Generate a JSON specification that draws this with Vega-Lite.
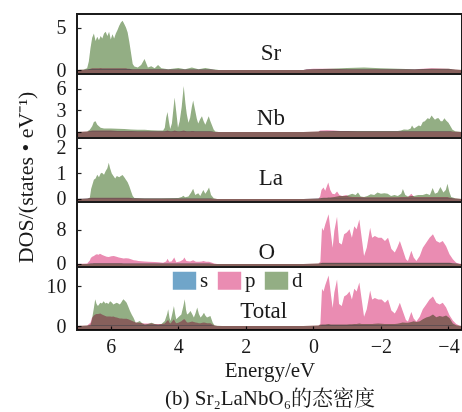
{
"$schema": "https://vega.github.io/schema/vega-lite/v6.json",
"background": "white",
"padding": {"left": 13, "top": 13, "right": 0, "bottom": 0},
"spacing": 0,
"bounds": "flush",
"resolve": {"legend": {"color": "independent"}},
"config": {
 "font": "Liberation Serif",
 "view": {"stroke": "#1c1c1c", "strokeWidth": 2},
 "axis": {"grid": false, "domain": false, "tickSize": -4, "tickColor": "#222", "tickWidth": 1.2, "labelFont": "Liberation Serif", "labelFontSize": 20, "labelColor": "#1a1a1a", "labelOverlap": false, "labelFlush": false, "labelPadding": 15, "titleFont": "Liberation Serif, Noto Serif CJK SC, Noto Sans CJK SC", "titleFontSize": 21, "titleFontWeight": "normal", "titleColor": "#1a1a1a"},
 "area": {"blend": "multiply", "interpolate": "linear"},
 "text": {"font": "Liberation Serif", "fontSize": 23, "color": "#1a1a1a"}
},
"data": {"values": [
{"a":"Sr","e":7,"s":0,"p":0,"d":0},{"a":"Sr","e":6.8,"s":0,"p":0.02,"d":0.05},{"a":"Sr","e":6.7,"s":0.02,"p":0.05,"d":0.2},{"a":"Sr","e":6.65,"s":0.05,"p":0.1,"d":1.0},{"a":"Sr","e":6.6,"s":0.05,"p":0.15,"d":2.6},{"a":"Sr","e":6.55,"s":0.05,"p":0.2,"d":3.8},{"a":"Sr","e":6.5,"s":0.05,"p":0.2,"d":4.3},{"a":"Sr","e":6.45,"s":0.05,"p":0.2,"d":3.4},{"a":"Sr","e":6.4,"s":0.05,"p":0.2,"d":3.9},{"a":"Sr","e":6.35,"s":0.05,"p":0.2,"d":3.5},{"a":"Sr","e":6.3,"s":0.05,"p":0.25,"d":4.0},{"a":"Sr","e":6.25,"s":0.05,"p":0.2,"d":3.7},{"a":"Sr","e":6.2,"s":0.05,"p":0.2,"d":4.3},{"a":"Sr","e":6.15,"s":0.05,"p":0.2,"d":4.5},{"a":"Sr","e":6.1,"s":0.05,"p":0.2,"d":4.0},{"a":"Sr","e":6.05,"s":0.05,"p":0.2,"d":4.5},{"a":"Sr","e":6.0,"s":0.05,"p":0.2,"d":3.6},{"a":"Sr","e":5.95,"s":0.05,"p":0.2,"d":4.2},{"a":"Sr","e":5.9,"s":0.05,"p":0.2,"d":3.7},{"a":"Sr","e":5.85,"s":0.05,"p":0.2,"d":4.3},{"a":"Sr","e":5.8,"s":0.05,"p":0.2,"d":4.7},{"a":"Sr","e":5.75,"s":0.05,"p":0.2,"d":5.2},{"a":"Sr","e":5.7,"s":0.05,"p":0.2,"d":5.6},{"a":"Sr","e":5.65,"s":0.05,"p":0.2,"d":5.8},{"a":"Sr","e":5.6,"s":0.05,"p":0.2,"d":5.4},{"a":"Sr","e":5.55,"s":0.05,"p":0.2,"d":5.0},{"a":"Sr","e":5.5,"s":0.05,"p":0.15,"d":4.4},{"a":"Sr","e":5.45,"s":0.05,"p":0.15,"d":3.3},{"a":"Sr","e":5.4,"s":0.05,"p":0.1,"d":2.0},{"a":"Sr","e":5.35,"s":0.03,"p":0.1,"d":0.7},{"a":"Sr","e":5.3,"s":0.03,"p":0.1,"d":0.4},{"a":"Sr","e":5.2,"s":0.03,"p":0.1,"d":0.3},{"a":"Sr","e":5.1,"s":0.03,"p":0.1,"d":0.6},{"a":"Sr","e":5.0,"s":0.03,"p":0.1,"d":1.3},{"a":"Sr","e":4.95,"s":0.03,"p":0.1,"d":0.8},{"a":"Sr","e":4.9,"s":0.03,"p":0.1,"d":0.3},{"a":"Sr","e":4.8,"s":0.03,"p":0.1,"d":0.45},{"a":"Sr","e":4.7,"s":0.03,"p":0.1,"d":0.2},{"a":"Sr","e":4.6,"s":0.03,"p":0.1,"d":0.6},{"a":"Sr","e":4.5,"s":0.03,"p":0.1,"d":0.2},{"a":"Sr","e":4.3,"s":0.02,"p":0.05,"d":0.1},{"a":"Sr","e":4.0,"s":0.02,"p":0.05,"d":0.25},{"a":"Sr","e":3.8,"s":0.02,"p":0.05,"d":0.1},{"a":"Sr","e":3.6,"s":0.02,"p":0.05,"d":0.3},{"a":"Sr","e":3.4,"s":0.02,"p":0.05,"d":0.1},{"a":"Sr","e":3.2,"s":0.02,"p":0.05,"d":0.25},{"a":"Sr","e":3.0,"s":0.02,"p":0.05,"d":0.1},{"a":"Sr","e":2.9,"s":0,"p":0,"d":0.05},{"a":"Sr","e":2.8,"s":0,"p":0,"d":0},{"a":"Sr","e":0.3,"s":0,"p":0,"d":0},{"a":"Sr","e":0.2,"s":0.02,"p":0.1,"d":0.05},{"a":"Sr","e":0,"s":0.02,"p":0.15,"d":0.1},{"a":"Sr","e":-0.5,"s":0.02,"p":0.15,"d":0.15},{"a":"Sr","e":-1.0,"s":0.02,"p":0.1,"d":0.25},{"a":"Sr","e":-1.5,"s":0.02,"p":0.1,"d":0.3},{"a":"Sr","e":-2.0,"s":0.02,"p":0.1,"d":0.2},{"a":"Sr","e":-2.5,"s":0.02,"p":0.1,"d":0.15},{"a":"Sr","e":-3.0,"s":0.02,"p":0.1,"d":0.1},{"a":"Sr","e":-3.5,"s":0.02,"p":0.2,"d":0.15},{"a":"Sr","e":-4.0,"s":0.02,"p":0.15,"d":0.15},{"a":"Sr","e":-4.2,"s":0,"p":0.05,"d":0.05},{"a":"Sr","e":-4.4,"s":0,"p":0,"d":0},
{"a":"Nb","e":7,"s":0,"p":0,"d":0},{"a":"Nb","e":6.7,"s":0.01,"p":0.05,"d":0.05},{"a":"Nb","e":6.62,"s":0.02,"p":0.15,"d":0.3},{"a":"Nb","e":6.55,"s":0.02,"p":0.2,"d":0.8},{"a":"Nb","e":6.5,"s":0.02,"p":0.2,"d":1.4},{"a":"Nb","e":6.45,"s":0.02,"p":0.2,"d":1.5},{"a":"Nb","e":6.4,"s":0.02,"p":0.2,"d":1.0},{"a":"Nb","e":6.3,"s":0.02,"p":0.2,"d":0.6},{"a":"Nb","e":6.2,"s":0.02,"p":0.2,"d":0.5},{"a":"Nb","e":6.0,"s":0.02,"p":0.2,"d":0.5},{"a":"Nb","e":5.8,"s":0.02,"p":0.15,"d":0.45},{"a":"Nb","e":5.6,"s":0.02,"p":0.15,"d":0.4},{"a":"Nb","e":5.4,"s":0.02,"p":0.15,"d":0.35},{"a":"Nb","e":5.2,"s":0.02,"p":0.1,"d":0.3},{"a":"Nb","e":5.0,"s":0.02,"p":0.1,"d":0.3},{"a":"Nb","e":4.8,"s":0.02,"p":0.1,"d":0.25},{"a":"Nb","e":4.6,"s":0.02,"p":0.1,"d":0.2},{"a":"Nb","e":4.45,"s":0.02,"p":0.1,"d":0.2},{"a":"Nb","e":4.4,"s":0.02,"p":0.1,"d":0.6},{"a":"Nb","e":4.36,"s":0.02,"p":0.15,"d":2.0},{"a":"Nb","e":4.32,"s":0.02,"p":0.2,"d":2.8},{"a":"Nb","e":4.28,"s":0.02,"p":0.15,"d":1.5},{"a":"Nb","e":4.24,"s":0.02,"p":0.1,"d":0.4},{"a":"Nb","e":4.19,"s":0.02,"p":0.1,"d":1.2},{"a":"Nb","e":4.15,"s":0.02,"p":0.15,"d":3.0},{"a":"Nb","e":4.11,"s":0.02,"p":0.2,"d":4.8},{"a":"Nb","e":4.06,"s":0.02,"p":0.15,"d":2.8},{"a":"Nb","e":4.01,"s":0.02,"p":0.1,"d":0.6},{"a":"Nb","e":3.96,"s":0.02,"p":0.1,"d":1.5},{"a":"Nb","e":3.9,"s":0.02,"p":0.15,"d":3.5},{"a":"Nb","e":3.84,"s":0.02,"p":0.2,"d":6.4},{"a":"Nb","e":3.79,"s":0.02,"p":0.15,"d":4.0},{"a":"Nb","e":3.75,"s":0.02,"p":0.1,"d":2.5},{"a":"Nb","e":3.7,"s":0.02,"p":0.1,"d":1.3},{"a":"Nb","e":3.65,"s":0.02,"p":0.1,"d":2.0},{"a":"Nb","e":3.6,"s":0.02,"p":0.15,"d":3.5},{"a":"Nb","e":3.56,"s":0.02,"p":0.15,"d":4.4},{"a":"Nb","e":3.51,"s":0.02,"p":0.1,"d":3.2},{"a":"Nb","e":3.45,"s":0.02,"p":0.1,"d":1.8},{"a":"Nb","e":3.41,"s":0.02,"p":0.1,"d":1.2},{"a":"Nb","e":3.35,"s":0.02,"p":0.1,"d":1.8},{"a":"Nb","e":3.3,"s":0.02,"p":0.1,"d":2.2},{"a":"Nb","e":3.25,"s":0.02,"p":0.1,"d":1.5},{"a":"Nb","e":3.2,"s":0.02,"p":0.1,"d":1.0},{"a":"Nb","e":3.15,"s":0.02,"p":0.1,"d":1.6},{"a":"Nb","e":3.1,"s":0.02,"p":0.1,"d":2.2},{"a":"Nb","e":3.05,"s":0.02,"p":0.1,"d":1.5},{"a":"Nb","e":3.0,"s":0.02,"p":0.05,"d":0.9},{"a":"Nb","e":2.95,"s":0.01,"p":0.03,"d":0.3},{"a":"Nb","e":2.9,"s":0,"p":0.01,"d":0.05},{"a":"Nb","e":2.8,"s":0,"p":0,"d":0},{"a":"Nb","e":0.3,"s":0,"p":0,"d":0},{"a":"Nb","e":-0.15,"s":0.01,"p":0.05,"d":0.05},{"a":"Nb","e":-0.2,"s":0.02,"p":0.2,"d":0.1},{"a":"Nb","e":-0.4,"s":0.02,"p":0.25,"d":0.1},{"a":"Nb","e":-0.6,"s":0.02,"p":0.2,"d":0.12},{"a":"Nb","e":-0.8,"s":0.02,"p":0.15,"d":0.12},{"a":"Nb","e":-1.0,"s":0.02,"p":0.12,"d":0.15},{"a":"Nb","e":-1.3,"s":0.02,"p":0.1,"d":0.15},{"a":"Nb","e":-1.6,"s":0.02,"p":0.1,"d":0.15},{"a":"Nb","e":-1.9,"s":0.02,"p":0.1,"d":0.15},{"a":"Nb","e":-2.2,"s":0.02,"p":0.1,"d":0.15},{"a":"Nb","e":-2.5,"s":0.02,"p":0.1,"d":0.15},{"a":"Nb","e":-2.59,"s":0.02,"p":0.1,"d":0.2},{"a":"Nb","e":-2.68,"s":0.02,"p":0.1,"d":0.35},{"a":"Nb","e":-2.8,"s":0.02,"p":0.1,"d":0.3},{"a":"Nb","e":-2.88,"s":0.02,"p":0.1,"d":0.5},{"a":"Nb","e":-2.92,"s":0.02,"p":0.1,"d":0.9},{"a":"Nb","e":-2.98,"s":0.02,"p":0.1,"d":0.5},{"a":"Nb","e":-3.05,"s":0.02,"p":0.1,"d":0.7},{"a":"Nb","e":-3.12,"s":0.02,"p":0.1,"d":0.9},{"a":"Nb","e":-3.18,"s":0.02,"p":0.1,"d":0.8},{"a":"Nb","e":-3.24,"s":0.02,"p":0.1,"d":1.4},{"a":"Nb","e":-3.3,"s":0.02,"p":0.1,"d":1.5},{"a":"Nb","e":-3.38,"s":0.02,"p":0.1,"d":1.9},{"a":"Nb","e":-3.44,"s":0.02,"p":0.1,"d":1.8},{"a":"Nb","e":-3.5,"s":0.02,"p":0.1,"d":2.3},{"a":"Nb","e":-3.55,"s":0.02,"p":0.1,"d":2.0},{"a":"Nb","e":-3.6,"s":0.02,"p":0.1,"d":1.7},{"a":"Nb","e":-3.66,"s":0.02,"p":0.1,"d":1.9},{"a":"Nb","e":-3.71,"s":0.02,"p":0.1,"d":1.9},{"a":"Nb","e":-3.77,"s":0.02,"p":0.1,"d":1.5},{"a":"Nb","e":-3.82,"s":0.02,"p":0.1,"d":1.5},{"a":"Nb","e":-3.88,"s":0.02,"p":0.1,"d":1.9},{"a":"Nb","e":-3.93,"s":0.02,"p":0.1,"d":1.6},{"a":"Nb","e":-4.0,"s":0.02,"p":0.1,"d":1.3},{"a":"Nb","e":-4.06,"s":0.02,"p":0.1,"d":0.8},{"a":"Nb","e":-4.12,"s":0.01,"p":0.05,"d":0.3},{"a":"Nb","e":-4.2,"s":0,"p":0.02,"d":0.1},{"a":"Nb","e":-4.4,"s":0,"p":0,"d":0},
{"a":"La","e":7,"s":0,"p":0,"d":0},{"a":"La","e":6.7,"s":0.005,"p":0.02,"d":0.02},{"a":"La","e":6.62,"s":0.01,"p":0.04,"d":0.05},{"a":"La","e":6.58,"s":0.01,"p":0.05,"d":0.4},{"a":"La","e":6.5,"s":0.01,"p":0.05,"d":0.75},{"a":"La","e":6.45,"s":0.01,"p":0.05,"d":0.8},{"a":"La","e":6.4,"s":0.01,"p":0.05,"d":0.95},{"a":"La","e":6.35,"s":0.01,"p":0.05,"d":0.85},{"a":"La","e":6.3,"s":0.01,"p":0.05,"d":1.0},{"a":"La","e":6.26,"s":0.01,"p":0.05,"d":1.03},{"a":"La","e":6.2,"s":0.01,"p":0.05,"d":0.95},{"a":"La","e":6.15,"s":0.01,"p":0.05,"d":1.1},{"a":"La","e":6.1,"s":0.01,"p":0.05,"d":1.2},{"a":"La","e":6.06,"s":0.01,"p":0.05,"d":1.42},{"a":"La","e":6.02,"s":0.01,"p":0.05,"d":1.2},{"a":"La","e":5.97,"s":0.01,"p":0.05,"d":1.0},{"a":"La","e":5.92,"s":0.01,"p":0.05,"d":0.9},{"a":"La","e":5.87,"s":0.01,"p":0.05,"d":0.8},{"a":"La","e":5.82,"s":0.01,"p":0.05,"d":0.9},{"a":"La","e":5.75,"s":0.01,"p":0.05,"d":0.85},{"a":"La","e":5.7,"s":0.01,"p":0.05,"d":0.9},{"a":"La","e":5.65,"s":0.01,"p":0.05,"d":0.94},{"a":"La","e":5.6,"s":0.01,"p":0.05,"d":0.85},{"a":"La","e":5.55,"s":0.01,"p":0.05,"d":0.75},{"a":"La","e":5.5,"s":0.01,"p":0.05,"d":0.65},{"a":"La","e":5.45,"s":0.01,"p":0.05,"d":0.5},{"a":"La","e":5.4,"s":0.01,"p":0.04,"d":0.3},{"a":"La","e":5.35,"s":0.01,"p":0.03,"d":0.12},{"a":"La","e":5.3,"s":0.01,"p":0.03,"d":0.04},{"a":"La","e":5.0,"s":0.01,"p":0.02,"d":0.03},{"a":"La","e":4.5,"s":0.01,"p":0.02,"d":0.03},{"a":"La","e":4.0,"s":0.01,"p":0.02,"d":0.04},{"a":"La","e":3.9,"s":0.01,"p":0.02,"d":0.08},{"a":"La","e":3.85,"s":0.01,"p":0.02,"d":0.13},{"a":"La","e":3.8,"s":0.01,"p":0.02,"d":0.07},{"a":"La","e":3.7,"s":0.01,"p":0.02,"d":0.1},{"a":"La","e":3.62,"s":0.01,"p":0.02,"d":0.25},{"a":"La","e":3.56,"s":0.01,"p":0.02,"d":0.4},{"a":"La","e":3.5,"s":0.01,"p":0.02,"d":0.15},{"a":"La","e":3.41,"s":0.01,"p":0.02,"d":0.22},{"a":"La","e":3.35,"s":0.01,"p":0.02,"d":0.12},{"a":"La","e":3.26,"s":0.01,"p":0.02,"d":0.35},{"a":"La","e":3.2,"s":0.01,"p":0.02,"d":0.2},{"a":"La","e":3.15,"s":0.01,"p":0.02,"d":0.3},{"a":"La","e":3.09,"s":0.01,"p":0.02,"d":0.45},{"a":"La","e":3.03,"s":0.01,"p":0.02,"d":0.15},{"a":"La","e":2.95,"s":0,"p":0.01,"d":0.03},{"a":"La","e":2.85,"s":0,"p":0,"d":0},{"a":"La","e":0.3,"s":0,"p":0,"d":0},{"a":"La","e":-0.15,"s":0.005,"p":0.02,"d":0.02},{"a":"La","e":-0.2,"s":0.01,"p":0.1,"d":0.03},{"a":"La","e":-0.24,"s":0.01,"p":0.35,"d":0.04},{"a":"La","e":-0.3,"s":0.01,"p":0.45,"d":0.05},{"a":"La","e":-0.35,"s":0.01,"p":0.32,"d":0.05},{"a":"La","e":-0.4,"s":0.01,"p":0.5,"d":0.05},{"a":"La","e":-0.44,"s":0.01,"p":0.64,"d":0.06},{"a":"La","e":-0.5,"s":0.01,"p":0.35,"d":0.06},{"a":"La","e":-0.56,"s":0.01,"p":0.2,"d":0.07},{"a":"La","e":-0.63,"s":0.01,"p":0.18,"d":0.08},{"a":"La","e":-0.7,"s":0.01,"p":0.29,"d":0.1},{"a":"La","e":-0.77,"s":0.01,"p":0.15,"d":0.12},{"a":"La","e":-0.85,"s":0.01,"p":0.12,"d":0.12},{"a":"La","e":-0.97,"s":0.01,"p":0.15,"d":0.12},{"a":"La","e":-1.05,"s":0.01,"p":0.1,"d":0.15},{"a":"La","e":-1.15,"s":0.01,"p":0.08,"d":0.2},{"a":"La","e":-1.25,"s":0.01,"p":0.08,"d":0.15},{"a":"La","e":-1.32,"s":0.01,"p":0.08,"d":0.25},{"a":"La","e":-1.4,"s":0.01,"p":0.08,"d":0.1},{"a":"La","e":-1.5,"s":0.01,"p":0.07,"d":0.08},{"a":"La","e":-1.6,"s":0.01,"p":0.07,"d":0.12},{"a":"La","e":-1.7,"s":0.01,"p":0.07,"d":0.18},{"a":"La","e":-1.8,"s":0.01,"p":0.07,"d":0.15},{"a":"La","e":-1.9,"s":0.01,"p":0.07,"d":0.25},{"a":"La","e":-2.0,"s":0.01,"p":0.07,"d":0.2},{"a":"La","e":-2.1,"s":0.01,"p":0.07,"d":0.22},{"a":"La","e":-2.2,"s":0.01,"p":0.07,"d":0.2},{"a":"La","e":-2.3,"s":0.01,"p":0.07,"d":0.12},{"a":"La","e":-2.4,"s":0.01,"p":0.07,"d":0.15},{"a":"La","e":-2.5,"s":0.01,"p":0.07,"d":0.12},{"a":"La","e":-2.6,"s":0.01,"p":0.08,"d":0.2},{"a":"La","e":-2.65,"s":0.01,"p":0.08,"d":0.39},{"a":"La","e":-2.72,"s":0.01,"p":0.08,"d":0.15},{"a":"La","e":-2.8,"s":0.01,"p":0.08,"d":0.1},{"a":"La","e":-2.9,"s":0.01,"p":0.2,"d":0.12},{"a":"La","e":-2.98,"s":0.01,"p":0.08,"d":0.12},{"a":"La","e":-3.1,"s":0.01,"p":0.08,"d":0.15},{"a":"La","e":-3.24,"s":0.01,"p":0.08,"d":0.15},{"a":"La","e":-3.35,"s":0.01,"p":0.08,"d":0.2},{"a":"La","e":-3.45,"s":0.01,"p":0.08,"d":0.15},{"a":"La","e":-3.53,"s":0.01,"p":0.08,"d":0.43},{"a":"La","e":-3.6,"s":0.01,"p":0.08,"d":0.2},{"a":"La","e":-3.68,"s":0.01,"p":0.08,"d":0.25},{"a":"La","e":-3.76,"s":0.01,"p":0.08,"d":0.47},{"a":"La","e":-3.85,"s":0.01,"p":0.08,"d":0.25},{"a":"La","e":-3.92,"s":0.01,"p":0.08,"d":0.35},{"a":"La","e":-3.97,"s":0.01,"p":0.08,"d":0.6},{"a":"La","e":-4.02,"s":0.01,"p":0.06,"d":0.3},{"a":"La","e":-4.08,"s":0.01,"p":0.04,"d":0.08},{"a":"La","e":-4.2,"s":0,"p":0.02,"d":0.03},{"a":"La","e":-4.4,"s":0,"p":0,"d":0},
{"a":"O","e":7,"s":0,"p":0,"d":0},{"a":"O","e":6.7,"s":0.02,"p":0.1,"d":0.02},{"a":"O","e":6.62,"s":0.05,"p":0.8,"d":0.05},{"a":"O","e":6.59,"s":0.05,"p":1.4,"d":0.1},{"a":"O","e":6.55,"s":0.05,"p":1.7,"d":0.1},{"a":"O","e":6.5,"s":0.05,"p":1.9,"d":0.15},{"a":"O","e":6.45,"s":0.05,"p":2.2,"d":0.15},{"a":"O","e":6.41,"s":0.05,"p":2.3,"d":0.15},{"a":"O","e":6.36,"s":0.05,"p":2.2,"d":0.15},{"a":"O","e":6.32,"s":0.05,"p":2.4,"d":0.15},{"a":"O","e":6.25,"s":0.05,"p":2.1,"d":0.15},{"a":"O","e":6.18,"s":0.05,"p":1.9,"d":0.15},{"a":"O","e":6.12,"s":0.05,"p":1.7,"d":0.15},{"a":"O","e":6.06,"s":0.05,"p":1.65,"d":0.15},{"a":"O","e":5.98,"s":0.05,"p":1.8,"d":0.15},{"a":"O","e":5.91,"s":0.05,"p":1.9,"d":0.15},{"a":"O","e":5.83,"s":0.05,"p":1.7,"d":0.15},{"a":"O","e":5.76,"s":0.05,"p":1.5,"d":0.15},{"a":"O","e":5.69,"s":0.05,"p":1.4,"d":0.15},{"a":"O","e":5.62,"s":0.05,"p":1.3,"d":0.1},{"a":"O","e":5.55,"s":0.05,"p":1.35,"d":0.1},{"a":"O","e":5.47,"s":0.05,"p":1.3,"d":0.1},{"a":"O","e":5.4,"s":0.05,"p":1.1,"d":0.1},{"a":"O","e":5.32,"s":0.05,"p":0.9,"d":0.1},{"a":"O","e":5.25,"s":0.05,"p":0.8,"d":0.1},{"a":"O","e":5.18,"s":0.05,"p":0.7,"d":0.1},{"a":"O","e":5.0,"s":0.03,"p":0.6,"d":0.1},{"a":"O","e":4.88,"s":0.03,"p":0.55,"d":0.1},{"a":"O","e":4.7,"s":0.03,"p":0.45,"d":0.1},{"a":"O","e":4.58,"s":0.03,"p":0.4,"d":0.1},{"a":"O","e":4.45,"s":0.03,"p":0.3,"d":0.1},{"a":"O","e":4.36,"s":0.03,"p":0.6,"d":0.1},{"a":"O","e":4.32,"s":0.03,"p":1.25,"d":0.1},{"a":"O","e":4.27,"s":0.03,"p":0.5,"d":0.1},{"a":"O","e":4.2,"s":0.03,"p":0.6,"d":0.1},{"a":"O","e":4.12,"s":0.03,"p":1.5,"d":0.1},{"a":"O","e":4.06,"s":0.03,"p":0.4,"d":0.1},{"a":"O","e":3.95,"s":0.03,"p":0.6,"d":0.1},{"a":"O","e":3.86,"s":0.03,"p":1.0,"d":0.1},{"a":"O","e":3.82,"s":0.03,"p":1.5,"d":0.1},{"a":"O","e":3.76,"s":0.03,"p":0.7,"d":0.1},{"a":"O","e":3.65,"s":0.03,"p":0.6,"d":0.1},{"a":"O","e":3.56,"s":0.03,"p":0.9,"d":0.1},{"a":"O","e":3.48,"s":0.03,"p":0.5,"d":0.1},{"a":"O","e":3.38,"s":0.03,"p":0.5,"d":0.1},{"a":"O","e":3.3,"s":0.03,"p":0.6,"d":0.1},{"a":"O","e":3.26,"s":0.03,"p":0.7,"d":0.1},{"a":"O","e":3.18,"s":0.03,"p":0.5,"d":0.1},{"a":"O","e":3.09,"s":0.03,"p":0.55,"d":0.1},{"a":"O","e":3.0,"s":0.02,"p":0.3,"d":0.05},{"a":"O","e":2.94,"s":0.01,"p":0.1,"d":0.02},{"a":"O","e":2.85,"s":0,"p":0,"d":0},{"a":"O","e":0.3,"s":0,"p":0,"d":0},{"a":"O","e":-0.15,"s":0.02,"p":0.1,"d":0.1},{"a":"O","e":-0.206,"s":0.05,"p":0.5,"d":0.2},{"a":"O","e":-0.255,"s":0.1,"p":8.5,"d":0.3},{"a":"O","e":-0.3,"s":0.1,"p":7.8,"d":0.3},{"a":"O","e":-0.35,"s":0.1,"p":9.3,"d":0.3},{"a":"O","e":-0.45,"s":0.1,"p":11.7,"d":0.3},{"a":"O","e":-0.52,"s":0.1,"p":7.0,"d":0.3},{"a":"O","e":-0.57,"s":0.1,"p":3.8,"d":0.3},{"a":"O","e":-0.62,"s":0.1,"p":7.8,"d":0.3},{"a":"O","e":-0.7,"s":0.1,"p":11.1,"d":0.3},{"a":"O","e":-0.76,"s":0.1,"p":5.0,"d":0.3},{"a":"O","e":-0.84,"s":0.1,"p":4.6,"d":0.3},{"a":"O","e":-0.91,"s":0.1,"p":7.0,"d":0.3},{"a":"O","e":-0.99,"s":0.1,"p":7.4,"d":0.3},{"a":"O","e":-1.07,"s":0.1,"p":8.2,"d":0.3},{"a":"O","e":-1.14,"s":0.1,"p":6.2,"d":0.3},{"a":"O","e":-1.21,"s":0.1,"p":8.9,"d":0.3},{"a":"O","e":-1.28,"s":0.1,"p":8.2,"d":0.3},{"a":"O","e":-1.36,"s":0.1,"p":10.5,"d":0.3},{"a":"O","e":-1.43,"s":0.1,"p":6.2,"d":0.3},{"a":"O","e":-1.5,"s":0.1,"p":1.9,"d":0.3},{"a":"O","e":-1.58,"s":0.1,"p":3.8,"d":0.3},{"a":"O","e":-1.68,"s":0.1,"p":8.5,"d":0.3},{"a":"O","e":-1.74,"s":0.1,"p":6.2,"d":0.3},{"a":"O","e":-1.82,"s":0.1,"p":6.6,"d":0.3},{"a":"O","e":-1.92,"s":0.1,"p":6.2,"d":0.3},{"a":"O","e":-2.02,"s":0.1,"p":6.2,"d":0.3},{"a":"O","e":-2.12,"s":0.1,"p":5.4,"d":0.3},{"a":"O","e":-2.21,"s":0.1,"p":6.2,"d":0.3},{"a":"O","e":-2.31,"s":0.1,"p":3.5,"d":0.3},{"a":"O","e":-2.41,"s":0.1,"p":2.7,"d":0.3},{"a":"O","e":-2.48,"s":0.1,"p":3.8,"d":0.3},{"a":"O","e":-2.56,"s":0.1,"p":5.4,"d":0.3},{"a":"O","e":-2.64,"s":0.1,"p":3.5,"d":0.3},{"a":"O","e":-2.74,"s":0.1,"p":1.1,"d":0.3},{"a":"O","e":-2.8,"s":0.1,"p":0.7,"d":0.3},{"a":"O","e":-2.9,"s":0.1,"p":3.1,"d":0.3},{"a":"O","e":-2.97,"s":0.1,"p":1.5,"d":0.3},{"a":"O","e":-3.05,"s":0.1,"p":0.7,"d":0.3},{"a":"O","e":-3.15,"s":0.1,"p":1.9,"d":0.3},{"a":"O","e":-3.24,"s":0.1,"p":3.8,"d":0.3},{"a":"O","e":-3.34,"s":0.1,"p":5.0,"d":0.3},{"a":"O","e":-3.44,"s":0.1,"p":6.2,"d":0.3},{"a":"O","e":-3.54,"s":0.1,"p":7.0,"d":0.3},{"a":"O","e":-3.64,"s":0.1,"p":5.4,"d":0.3},{"a":"O","e":-3.74,"s":0.1,"p":5.0,"d":0.3},{"a":"O","e":-3.83,"s":0.1,"p":5.4,"d":0.3},{"a":"O","e":-3.93,"s":0.1,"p":4.2,"d":0.3},{"a":"O","e":-4.03,"s":0.1,"p":2.3,"d":0.3},{"a":"O","e":-4.13,"s":0.05,"p":1.1,"d":0.2},{"a":"O","e":-4.23,"s":0.03,"p":0.3,"d":0.1},{"a":"O","e":-4.32,"s":0,"p":0.1,"d":0.02},{"a":"O","e":-4.4,"s":0,"p":0,"d":0},
{"a":"Total","e":7,"s":0,"p":0,"d":0},{"a":"Total","e":6.7,"s":0.02,"p":0.1,"d":0.1},{"a":"Total","e":6.6,"s":0.05,"p":0.8,"d":0.3},{"a":"Total","e":6.56,"s":0.1,"p":2.0,"d":1.5},{"a":"Total","e":6.5,"s":0.1,"p":2.6,"d":4.5},{"a":"Total","e":6.46,"s":0.1,"p":2.9,"d":6.7},{"a":"Total","e":6.42,"s":0.1,"p":3.0,"d":5.5},{"a":"Total","e":6.38,"s":0.1,"p":3.0,"d":5.0},{"a":"Total","e":6.31,"s":0.15,"p":3.1,"d":5.8},{"a":"Total","e":6.26,"s":0.15,"p":2.9,"d":5.6},{"a":"Total","e":6.21,"s":0.15,"p":2.7,"d":6.2},{"a":"Total","e":6.16,"s":0.15,"p":2.5,"d":5.6},{"a":"Total","e":6.12,"s":0.15,"p":2.4,"d":5.8},{"a":"Total","e":6.07,"s":0.15,"p":2.4,"d":5.5},{"a":"Total","e":6.02,"s":0.15,"p":2.4,"d":6.2},{"a":"Total","e":5.97,"s":0.15,"p":2.3,"d":5.9},{"a":"Total","e":5.92,"s":0.15,"p":2.4,"d":5.4},{"a":"Total","e":5.87,"s":0.15,"p":2.2,"d":5.6},{"a":"Total","e":5.82,"s":0.15,"p":2.1,"d":5.8},{"a":"Total","e":5.78,"s":0.15,"p":2.0,"d":5.6},{"a":"Total","e":5.73,"s":0.15,"p":1.9,"d":5.4},{"a":"Total","e":5.68,"s":0.15,"p":1.9,"d":6.0},{"a":"Total","e":5.63,"s":0.15,"p":1.8,"d":6.7},{"a":"Total","e":5.58,"s":0.15,"p":1.8,"d":6.3},{"a":"Total","e":5.53,"s":0.15,"p":1.8,"d":5.8},{"a":"Total","e":5.48,"s":0.15,"p":1.7,"d":4.8},{"a":"Total","e":5.43,"s":0.1,"p":1.5,"d":3.75},{"a":"Total","e":5.38,"s":0.1,"p":1.3,"d":2.9},{"a":"Total","e":5.33,"s":0.1,"p":1.1,"d":2.1},{"a":"Total","e":5.26,"s":0.1,"p":0.9,"d":0.8},{"a":"Total","e":5.2,"s":0.1,"p":0.8,"d":1.0},{"a":"Total","e":5.14,"s":0.1,"p":0.8,"d":1.25},{"a":"Total","e":5.07,"s":0.1,"p":0.7,"d":0.7},{"a":"Total","e":4.99,"s":0.1,"p":0.6,"d":0.4},{"a":"Total","e":4.9,"s":0.1,"p":0.6,"d":0.5},{"a":"Total","e":4.79,"s":0.1,"p":0.6,"d":0.8},{"a":"Total","e":4.7,"s":0.1,"p":0.5,"d":0.5},{"a":"Total","e":4.6,"s":0.1,"p":0.5,"d":0.4},{"a":"Total","e":4.5,"s":0.1,"p":0.5,"d":0.5},{"a":"Total","e":4.4,"s":0.1,"p":0.6,"d":1.25},{"a":"Total","e":4.33,"s":0.1,"p":1.3,"d":3.0},{"a":"Total","e":4.3,"s":0.1,"p":1.5,"d":4.2},{"a":"Total","e":4.26,"s":0.1,"p":0.8,"d":2.0},{"a":"Total","e":4.23,"s":0.1,"p":0.6,"d":1.25},{"a":"Total","e":4.18,"s":0.1,"p":1.2,"d":3.0},{"a":"Total","e":4.13,"s":0.1,"p":1.7,"d":5.0},{"a":"Total","e":4.09,"s":0.1,"p":1.0,"d":2.8},{"a":"Total","e":4.06,"s":0.1,"p":0.7,"d":1.7},{"a":"Total","e":4.0,"s":0.1,"p":0.8,"d":2.2},{"a":"Total","e":3.91,"s":0.1,"p":1.2,"d":2.9},{"a":"Total","e":3.85,"s":0.1,"p":1.6,"d":5.0},{"a":"Total","e":3.81,"s":0.1,"p":1.7,"d":6.7},{"a":"Total","e":3.77,"s":0.1,"p":1.2,"d":4.0},{"a":"Total","e":3.74,"s":0.1,"p":0.9,"d":2.9},{"a":"Total","e":3.69,"s":0.1,"p":0.9,"d":3.2},{"a":"Total","e":3.64,"s":0.1,"p":1.0,"d":3.75},{"a":"Total","e":3.59,"s":0.1,"p":1.1,"d":3.0},{"a":"Total","e":3.54,"s":0.1,"p":1.0,"d":2.1},{"a":"Total","e":3.49,"s":0.1,"p":0.9,"d":3.2},{"a":"Total","e":3.44,"s":0.1,"p":0.8,"d":4.6},{"a":"Total","e":3.39,"s":0.1,"p":0.7,"d":3.0},{"a":"Total","e":3.34,"s":0.1,"p":0.7,"d":2.1},{"a":"Total","e":3.29,"s":0.1,"p":0.8,"d":2.6},{"a":"Total","e":3.24,"s":0.1,"p":0.9,"d":3.3},{"a":"Total","e":3.2,"s":0.1,"p":0.8,"d":2.6},{"a":"Total","e":3.15,"s":0.1,"p":0.7,"d":2.1},{"a":"Total","e":3.1,"s":0.1,"p":0.7,"d":2.3},{"a":"Total","e":3.05,"s":0.1,"p":0.7,"d":2.5},{"a":"Total","e":2.98,"s":0.05,"p":0.3,"d":0.8},{"a":"Total","e":2.93,"s":0.02,"p":0.1,"d":0.2},{"a":"Total","e":2.85,"s":0,"p":0,"d":0.05},{"a":"Total","e":2.7,"s":0,"p":0,"d":0},{"a":"Total","e":0.3,"s":0,"p":0,"d":0},{"a":"Total","e":-0.15,"s":0.02,"p":0.1,"d":0.1},{"a":"Total","e":-0.206,"s":0.05,"p":0.5,"d":0.3},{"a":"Total","e":-0.255,"s":0.1,"p":9.3,"d":0.4},{"a":"Total","e":-0.3,"s":0.1,"p":8.6,"d":0.4},{"a":"Total","e":-0.35,"s":0.1,"p":10.2,"d":0.4},{"a":"Total","e":-0.45,"s":0.1,"p":12.6,"d":0.5},{"a":"Total","e":-0.52,"s":0.1,"p":7.8,"d":0.4},{"a":"Total","e":-0.57,"s":0.1,"p":4.5,"d":0.4},{"a":"Total","e":-0.62,"s":0.1,"p":8.4,"d":0.4},{"a":"Total","e":-0.7,"s":0.1,"p":11.6,"d":0.4},{"a":"Total","e":-0.76,"s":0.1,"p":5.5,"d":0.4},{"a":"Total","e":-0.84,"s":0.1,"p":5.0,"d":0.4},{"a":"Total","e":-0.91,"s":0.1,"p":7.4,"d":0.4},{"a":"Total","e":-0.99,"s":0.1,"p":7.8,"d":0.4},{"a":"Total","e":-1.07,"s":0.1,"p":8.6,"d":0.45},{"a":"Total","e":-1.14,"s":0.1,"p":6.6,"d":0.45},{"a":"Total","e":-1.21,"s":0.1,"p":9.3,"d":0.5},{"a":"Total","e":-1.28,"s":0.1,"p":8.6,"d":0.5},{"a":"Total","e":-1.36,"s":0.1,"p":10.9,"d":0.6},{"a":"Total","e":-1.43,"s":0.1,"p":6.6,"d":0.5},{"a":"Total","e":-1.5,"s":0.1,"p":2.3,"d":0.5},{"a":"Total","e":-1.58,"s":0.1,"p":4.2,"d":0.5},{"a":"Total","e":-1.68,"s":0.1,"p":8.9,"d":0.5},{"a":"Total","e":-1.74,"s":0.1,"p":6.6,"d":0.5},{"a":"Total","e":-1.82,"s":0.1,"p":7.0,"d":0.55},{"a":"Total","e":-1.92,"s":0.1,"p":6.6,"d":0.6},{"a":"Total","e":-2.02,"s":0.1,"p":6.6,"d":0.55},{"a":"Total","e":-2.12,"s":0.1,"p":5.8,"d":0.5},{"a":"Total","e":-2.21,"s":0.1,"p":6.6,"d":0.5},{"a":"Total","e":-2.31,"s":0.1,"p":3.9,"d":0.5},{"a":"Total","e":-2.41,"s":0.1,"p":3.1,"d":0.5},{"a":"Total","e":-2.48,"s":0.1,"p":4.2,"d":0.55},{"a":"Total","e":-2.56,"s":0.1,"p":5.8,"d":0.7},{"a":"Total","e":-2.64,"s":0.1,"p":3.9,"d":0.9},{"a":"Total","e":-2.74,"s":0.1,"p":1.5,"d":0.8},{"a":"Total","e":-2.8,"s":0.1,"p":1.1,"d":0.8},{"a":"Total","e":-2.9,"s":0.1,"p":3.5,"d":1.0},{"a":"Total","e":-2.97,"s":0.1,"p":1.9,"d":1.2},{"a":"Total","e":-3.05,"s":0.1,"p":1.1,"d":1.0},{"a":"Total","e":-3.15,"s":0.1,"p":2.3,"d":1.2},{"a":"Total","e":-3.24,"s":0.1,"p":4.2,"d":1.7},{"a":"Total","e":-3.34,"s":0.1,"p":5.4,"d":2.1},{"a":"Total","e":-3.44,"s":0.1,"p":6.6,"d":2.4},{"a":"Total","e":-3.54,"s":0.1,"p":7.4,"d":2.9},{"a":"Total","e":-3.64,"s":0.1,"p":5.8,"d":2.2},{"a":"Total","e":-3.74,"s":0.1,"p":5.4,"d":2.5},{"a":"Total","e":-3.83,"s":0.1,"p":5.8,"d":2.3},{"a":"Total","e":-3.93,"s":0.1,"p":4.6,"d":2.6},{"a":"Total","e":-4.03,"s":0.1,"p":2.7,"d":2.0},{"a":"Total","e":-4.13,"s":0.05,"p":1.4,"d":0.6},{"a":"Total","e":-4.23,"s":0.03,"p":0.5,"d":0.2},{"a":"Total","e":-4.32,"s":0,"p":0.1,"d":0.05},{"a":"Total","e":-4.4,"s":0,"p":0,"d":0}
]},
"vconcat": [
 {"width": 385, "height": 60, "layer": [
  {"transform": [{"filter": "datum.a==='Sr'"}, {"fold": ["p","d"], "as": ["o","v"]}], "mark": "area",
   "encoding": {"x": {"field": "e", "type": "quantitative", "scale": {"domain": [-4.4, 7], "reverse": true, "nice": false, "zero": false}, "axis": null},
    "y": {"field": "v", "type": "quantitative", "stack": null, "scale": {"domain": [-0.47, 6.59], "nice": false, "zero": false}, "axis": {"values": [0, 5], "title": null}},
    "y2": {"datum": -0.47},
    "color": {"field": "o", "type": "nominal", "scale": {"domain": ["s","p","d"], "range": ["#70a5c9","#ea8cb2","#93ae84"]}, "legend": null}}},
  {"transform": [{"filter": "datum.a==='Sr'"}, {"fold": ["s"], "as": ["o","v"]}], "mark": "area",
   "encoding": {"x": {"field": "e", "type": "quantitative", "scale": {"domain": [-4.4, 7], "reverse": true, "nice": false, "zero": false}, "axis": null},
    "y": {"field": "v", "type": "quantitative", "stack": null, "scale": {"domain": [-0.47, 6.59], "nice": false, "zero": false}, "axis": {"values": [0, 5], "title": null}},
    "y2": {"datum": 0},
    "color": {"field": "o", "type": "nominal", "scale": {"domain": ["s","p","d"], "range": ["#70a5c9","#ea8cb2","#93ae84"]}, "legend": null}}},
  {"data": {"values": [{"label": "Sr"}]}, "mark": "text",
   "encoding": {"x": {"datum": 1.26, "type": "quantitative", "scale": {"domain": [-4.4, 7], "reverse": true, "nice": false, "zero": false}, "axis": null},
    "y": {"datum": 2.0, "type": "quantitative", "scale": {"domain": [-0.47, 6.59], "nice": false, "zero": false}, "axis": {"values": [0, 5], "title": null}},
    "text": {"field": "label"}}}
 ]},
 {"width": 385, "height": 64, "layer": [
  {"transform": [{"filter": "datum.a==='Nb'"}, {"fold": ["p","d"], "as": ["o","v"]}], "mark": "area",
   "encoding": {"x": {"field": "e", "type": "quantitative", "scale": {"domain": [-4.4, 7], "reverse": true, "nice": false, "zero": false}, "axis": null},
    "y": {"field": "v", "type": "quantitative", "stack": null, "scale": {"domain": [-0.84, 8.09], "nice": false, "zero": false}, "axis": {"values": [0, 3, 6], "title": null}},
    "y2": {"datum": -0.84},
    "color": {"field": "o", "type": "nominal", "scale": {"domain": ["s","p","d"], "range": ["#70a5c9","#ea8cb2","#93ae84"]}, "legend": null}}},
  {"transform": [{"filter": "datum.a==='Nb'"}, {"fold": ["s"], "as": ["o","v"]}], "mark": "area",
   "encoding": {"x": {"field": "e", "type": "quantitative", "scale": {"domain": [-4.4, 7], "reverse": true, "nice": false, "zero": false}, "axis": null},
    "y": {"field": "v", "type": "quantitative", "stack": null, "scale": {"domain": [-0.84, 8.09], "nice": false, "zero": false}, "axis": {"values": [0, 3, 6], "title": null}},
    "y2": {"datum": 0},
    "color": {"field": "o", "type": "nominal", "scale": {"domain": ["s","p","d"], "range": ["#70a5c9","#ea8cb2","#93ae84"]}, "legend": null}}},
  {"data": {"values": [{"label": "Nb"}]}, "mark": "text",
   "encoding": {"x": {"datum": 1.26, "type": "quantitative", "scale": {"domain": [-4.4, 7], "reverse": true, "nice": false, "zero": false}, "axis": null},
    "y": {"datum": 1.95, "type": "quantitative", "scale": {"domain": [-0.84, 8.09], "nice": false, "zero": false}, "axis": {"values": [0, 3, 6], "title": null}},
    "text": {"field": "label"}}}
 ]},
 {"width": 385, "height": 64, "layer": [
  {"transform": [{"filter": "datum.a==='La'"}, {"fold": ["p","d"], "as": ["o","v"]}], "mark": "area",
   "encoding": {"x": {"field": "e", "type": "quantitative", "scale": {"domain": [-4.4, 7], "reverse": true, "nice": false, "zero": false}, "axis": null},
    "y": {"field": "v", "type": "quantitative", "stack": null, "scale": {"domain": [-0.12, 2.39], "nice": false, "zero": false}, "axis": {"values": [0, 1, 2], "title": "DOS/(states • eV⁻¹)", "titleFontSize": 22, "titlePadding": 19, "titleY": 39}},
    "y2": {"datum": -0.12},
    "color": {"field": "o", "type": "nominal", "scale": {"domain": ["s","p","d"], "range": ["#70a5c9","#ea8cb2","#93ae84"]}, "legend": null}}},
  {"transform": [{"filter": "datum.a==='La'"}, {"fold": ["s"], "as": ["o","v"]}], "mark": "area",
   "encoding": {"x": {"field": "e", "type": "quantitative", "scale": {"domain": [-4.4, 7], "reverse": true, "nice": false, "zero": false}, "axis": null},
    "y": {"field": "v", "type": "quantitative", "stack": null, "scale": {"domain": [-0.12, 2.39], "nice": false, "zero": false}, "axis": {"values": [0, 1, 2], "title": "DOS/(states • eV⁻¹)", "titleFontSize": 22, "titlePadding": 19, "titleY": 39}},
    "y2": {"datum": 0},
    "color": {"field": "o", "type": "nominal", "scale": {"domain": ["s","p","d"], "range": ["#70a5c9","#ea8cb2","#93ae84"]}, "legend": null}}},
  {"data": {"values": [{"label": "La"}]}, "mark": "text",
   "encoding": {"x": {"datum": 1.26, "type": "quantitative", "scale": {"domain": [-4.4, 7], "reverse": true, "nice": false, "zero": false}, "axis": null},
    "y": {"datum": 0.82, "type": "quantitative", "scale": {"domain": [-0.12, 2.39], "nice": false, "zero": false}, "axis": {"values": [0, 1, 2], "title": "DOS/(states • eV⁻¹)", "titleFontSize": 22, "titlePadding": 19, "titleY": 39}},
    "text": {"field": "label"}}}
 ]},
 {"width": 385, "height": 65, "layer": [
  {"transform": [{"filter": "datum.a==='O'"}, {"fold": ["p","d"], "as": ["o","v"]}], "mark": "area",
   "encoding": {"x": {"field": "e", "type": "quantitative", "scale": {"domain": [-4.4, 7], "reverse": true, "nice": false, "zero": false}, "axis": null},
    "y": {"field": "v", "type": "quantitative", "stack": null, "scale": {"domain": [-0.71, 14.59], "nice": false, "zero": false}, "axis": {"values": [0, 8], "title": null}},
    "y2": {"datum": -0.71},
    "color": {"field": "o", "type": "nominal", "scale": {"domain": ["s","p","d"], "range": ["#70a5c9","#ea8cb2","#93ae84"]}, "legend": null}}},
  {"transform": [{"filter": "datum.a==='O'"}, {"fold": ["s"], "as": ["o","v"]}], "mark": "area",
   "encoding": {"x": {"field": "e", "type": "quantitative", "scale": {"domain": [-4.4, 7], "reverse": true, "nice": false, "zero": false}, "axis": null},
    "y": {"field": "v", "type": "quantitative", "stack": null, "scale": {"domain": [-0.71, 14.59], "nice": false, "zero": false}, "axis": {"values": [0, 8], "title": null}},
    "y2": {"datum": 0},
    "color": {"field": "o", "type": "nominal", "scale": {"domain": ["s","p","d"], "range": ["#70a5c9","#ea8cb2","#93ae84"]}, "legend": null}}},
  {"data": {"values": [{"label": "O"}]}, "mark": "text",
   "encoding": {"x": {"datum": 1.38, "type": "quantitative", "scale": {"domain": [-4.4, 7], "reverse": true, "nice": false, "zero": false}, "axis": null},
    "y": {"datum": 2.8, "type": "quantitative", "scale": {"domain": [-0.71, 14.59], "nice": false, "zero": false}, "axis": {"values": [0, 8], "title": null}},
    "text": {"field": "label"}}}
 ]},
 {"width": 385, "height": 63, "layer": [
  {"transform": [{"filter": "datum.a==='Total'"}, {"fold": ["p","d"], "as": ["o","v"]}], "mark": "area",
   "encoding": {"x": {"field": "e", "type": "quantitative", "scale": {"domain": [-4.4, 7], "reverse": true, "nice": false, "zero": false}, "axis": {"values": [6, 4, 2, 0, -2, -4], "title": ["Energy/eV", "(b) Sr₂LaNbO₆的态密度"], "labelPadding": 10, "titlePadding": 3, "titleLineHeight": 28}},
    "y": {"field": "v", "type": "quantitative", "stack": null, "scale": {"domain": [-1, 14.75], "nice": false, "zero": false}, "axis": {"values": [0, 10], "title": null}},
    "y2": {"datum": -1},
    "color": {"field": "o", "type": "nominal", "scale": {"domain": ["s","p","d"], "range": ["#70a5c9","#ea8cb2","#93ae84"]}, "legend": {"orient": "none", "legendX": 97, "legendY": 3, "direction": "horizontal", "title": null, "symbolType": "M-1.3,-1L1.3,-1L1.3,1L-1.3,1Z", "symbolSize": 324, "symbolStrokeWidth": 0, "symbolOpacity": 1, "labelFontSize": 21, "labelFont": "Liberation Serif", "labelColor": "#1a1a1a", "labelOffset": 5, "columnPadding": 8}}}},
  {"transform": [{"filter": "datum.a==='Total'"}, {"fold": ["s"], "as": ["o","v"]}], "mark": "area",
   "encoding": {"x": {"field": "e", "type": "quantitative", "scale": {"domain": [-4.4, 7], "reverse": true, "nice": false, "zero": false}, "axis": {"values": [6, 4, 2, 0, -2, -4], "title": ["Energy/eV", "(b) Sr₂LaNbO₆的态密度"], "labelPadding": 10, "titlePadding": 3, "titleLineHeight": 28}},
    "y": {"field": "v", "type": "quantitative", "stack": null, "scale": {"domain": [-1, 14.75], "nice": false, "zero": false}, "axis": {"values": [0, 10], "title": null}},
    "y2": {"datum": 0},
    "color": {"field": "o", "type": "nominal", "scale": {"domain": ["s","p","d"], "range": ["#70a5c9","#ea8cb2","#93ae84"]}, "legend": {"orient": "none", "legendX": 97, "legendY": 3, "direction": "horizontal", "title": null, "symbolType": "M-1.3,-1L1.3,-1L1.3,1L-1.3,1Z", "symbolSize": 324, "symbolStrokeWidth": 0, "symbolOpacity": 1, "labelFontSize": 21, "labelFont": "Liberation Serif", "labelColor": "#1a1a1a", "labelOffset": 5, "columnPadding": 8}}}},
  {"data": {"values": [{"label": "Total"}]}, "mark": "text",
   "encoding": {"x": {"datum": 1.47, "type": "quantitative", "scale": {"domain": [-4.4, 7], "reverse": true, "nice": false, "zero": false}, "axis": {"values": [6, 4, 2, 0, -2, -4], "title": ["Energy/eV", "(b) Sr₂LaNbO₆的态密度"], "labelPadding": 10, "titlePadding": 3, "titleLineHeight": 28}},
    "y": {"datum": 3.75, "type": "quantitative", "scale": {"domain": [-1, 14.75], "nice": false, "zero": false}, "axis": {"values": [0, 10], "title": null}},
    "text": {"field": "label"}}}
 ]}
]
}
